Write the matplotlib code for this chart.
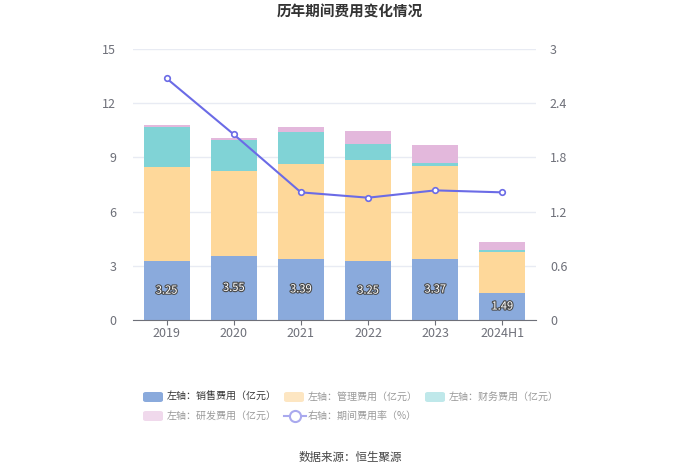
import matplotlib
matplotlib.use("Agg")
import matplotlib.pyplot as plt
import matplotlib.patheffects as pe
from matplotlib.lines import Line2D
from matplotlib.patches import FancyBboxPatch
import numpy as np

plt.rcParams['font.family'] = ['Noto Sans CJK SC', 'DejaVu Sans']

categories = ["2019", "2020", "2021", "2022", "2023", "2024H1"]
sales = [3.25, 3.55, 3.39, 3.25, 3.37, 1.49]
admin = [5.24, 4.72, 5.23, 5.61, 5.17, 2.26]
finance = [2.17, 1.69, 1.77, 0.88, 0.17, 0.12]
rnd = [0.11, 0.10, 0.29, 0.70, 0.96, 0.43]
rate = [2.675, 2.055, 1.413, 1.354, 1.435, 1.413]
legend_labels = ["左轴：销售费用（亿元）", "左轴：管理费用（亿元）", "左轴：财务费用（亿元）",
                 "左轴：研发费用（亿元）", "右轴：期间费用率（%）"]

c_sales = "#8aaadc"
c_admin = "#fed89a"
c_fin = "#80d3d6"
c_rnd = "#e3b8dc"
c_line = "#6b6be6"

fig = plt.figure(figsize=(7.0, 4.74), dpi=100)
ax = fig.add_axes([133/700, 1-320/474, 403/700, 271/474])
ax2 = ax.twinx()

x = np.arange(len(categories))
w = 0.685
s = np.array(sales); a = np.array(admin); f = np.array(finance); r = np.array(rnd)
ax.bar(x, s, w, color=c_sales, zorder=2)
ax.bar(x, a, w, bottom=s, color=c_admin, zorder=2)
ax.bar(x, f, w, bottom=s + a, color=c_fin, zorder=2)
ax.bar(x, r, w, bottom=s + a + f, color=c_rnd, zorder=2)

for xi, v in zip(x, sales):
    ax.text(xi, v / 2, f"{v:.2f}", ha="center", va="center", fontsize=8, color="white",
            zorder=5, path_effects=[pe.withStroke(linewidth=1.6, foreground="#4a4a4a")])

ax2.plot(x, rate, color=c_line, lw=1.5, marker="o", ms=4, mfc="white", mec=c_line, mew=1.2, zorder=4)

ax.set_xlim(-0.5, len(categories) - 0.5)
ax.set_ylim(0, 15)
ax2.set_ylim(0, 3)
ax.set_yticks([0, 3, 6, 9, 12, 15])
ax2.set_yticks([0, 0.6, 1.2, 1.8, 2.4, 3])
ax2.set_yticklabels(["0", "0.6", "1.2", "1.8", "2.4", "3"])
ax.set_xticks(x)
ax.set_xticklabels(categories)

ax.grid(axis="y", color="#e8ebf3", lw=1, zorder=0)
ax.set_axisbelow(True)
for axx in (ax, ax2):
    for sp in ["top", "left", "right", "bottom"]:
        axx.spines[sp].set_visible(False)
ax.spines["bottom"].set_visible(True)
ax.spines["bottom"].set_color("#6e7079")
ax.tick_params(axis="y", length=0, labelsize=9, labelcolor="#6e7079", pad=12)
ax2.tick_params(axis="y", length=0, labelsize=9, labelcolor="#6e7079", pad=10)
ax.tick_params(axis="x", length=3.5, color="#6e7079", labelsize=9, labelcolor="#6e7079", pad=1.5)

fig.text(0.5, 1 - 12/474, "历年期间费用变化情况", ha="center", va="center",
         fontsize=10.5, fontweight="bold", color="#333333")
fig.text(0.5, 1 - 458/474, "数据来源：恒生聚源", ha="center", va="center",
         fontsize=8.3, color="#444444")

patch_colors = [c_sales, "#fde6c2", "#bfe8ea", "#f0d9ec"]
pos = [(143, 397), (284, 397), (425, 397), (143, 416), (284, 416)]
for i, ((px, py), lab) in enumerate(zip(pos, legend_labels)):
    fy = 1 - py / 474
    if i < 4:
        fig.patches.append(FancyBboxPatch(
            (px / 700, fy - 5 / 474), 20 / 700, 10 / 474,
            boxstyle="round,pad=0,rounding_size=0.004",
            transform=fig.transFigure, facecolor=patch_colors[i], edgecolor="none"))
    else:
        fig.add_artist(Line2D([px / 700, (px + 22) / 700], [fy, fy], transform=fig.transFigure,
                              color="#a9a9ee", lw=1.5))
        fig.add_artist(Line2D([(px + 11) / 700], [fy], transform=fig.transFigure,
                              marker="o", ms=8, mfc="white", mec="#a9a9ee", mew=1.5))
    fig.text((px + 24) / 700, fy, lab, ha="left", va="center", fontsize=7.2,
             color="#333333" if i == 0 else "#999999")

fig.savefig("out.png", dpi=100)
